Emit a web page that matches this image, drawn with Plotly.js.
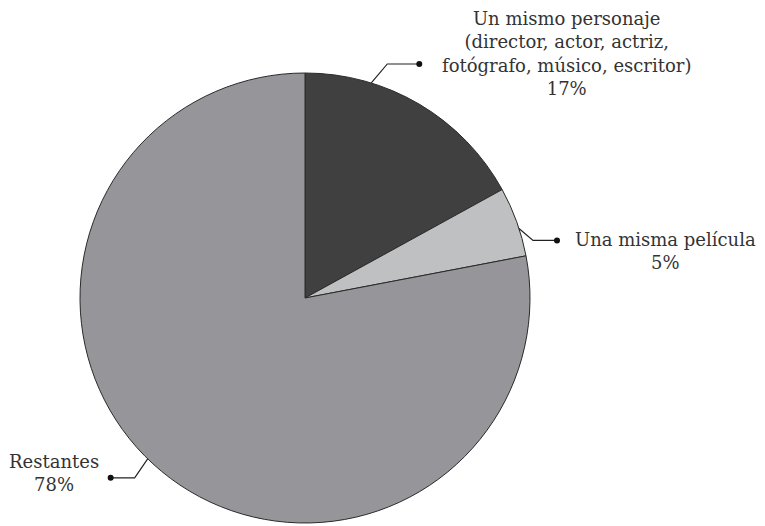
<!DOCTYPE html>
<html><head><meta charset="utf-8">
<script src="https://cdn.plot.ly/plotly-3.0.1.min.js"></script>
<style>html,body{margin:0;padding:0;background:#fff}</style>
</head><body><div id="chart" style="width:765px;height:526px"></div>
<script>
// Data
const labels = ["Un mismo personaje<br>(director, actor, actriz,<br>fotógrafo, músico, escritor)", "Una misma película", "Restantes"];
const values = [17, 5, 78];
const pctText = ["17%", "5%", "78%"];
const colors = ["#404041", "#bfc0c2", "#96969a"];

// Layout (pixels)
const W = 765, H = 526, cx = 305, cy = 298, R = 225;
const leaderFrac = [0.28, 0.6, 0.517];
const elbow = [[16, -19], [14, 12], [-13, 19]];
const run = [32, 24, -24];
const textPos = [[566, 53], [665, 251], [54, 473]];

const px = x => x / W, py = y => 1 - y / H;
const total = values.reduce((a, b) => a + b, 0);
const shapes = [], annotations = [];
let cum = 0;
values.forEach((v, i) => {
  const ang = (cum + v * leaderFrac[i]) / total * 2 * Math.PI;
  cum += v;
  const x0 = cx + R * Math.sin(ang), y0 = cy - R * Math.cos(ang);
  const x1 = x0 + elbow[i][0], y1 = y0 + elbow[i][1];
  const x2 = x1 + run[i], y2 = y1;
  shapes.push({type: "path", xref: "paper", yref: "paper",
    path: `M${px(x0)},${py(y0)} L${px(x1)},${py(y1)} L${px(x2)},${py(y2)}`,
    line: {color: "#222", width: 1.2}});
  shapes.push({type: "circle", xref: "paper", yref: "paper",
    x0: px(x2 - 3), x1: px(x2 + 3), y0: py(y2 + 3), y1: py(y2 - 3),
    fillcolor: "#111", line: {color: "#111", width: 0}});
  annotations.push({xref: "paper", yref: "paper", x: px(textPos[i][0]), y: py(textPos[i][1]),
    xanchor: "center", yanchor: "middle", align: "center", showarrow: false,
    text: labels[i] + "<br>" + pctText[i],
    font: {family: "'DejaVu Serif', serif", size: 18, color: "#333333"}});
});

const trace = {type: "pie", values: values, labels: ["a", "b", "c"], sort: false,
  direction: "clockwise", rotation: 0, textinfo: "none", hoverinfo: "none",
  marker: {colors: colors, line: {color: "#2a2a2a", width: 1}},
  domain: {x: [px(cx - R), px(cx + R)], y: [py(cy + R), py(cy - R)]}};

Plotly.newPlot("chart", [trace], {
  width: W, height: H, margin: {l: 0, r: 0, t: 0, b: 0},
  showlegend: false, paper_bgcolor: "#fff",
  shapes: shapes, annotations: annotations
}, {staticPlot: true});
</script></body></html>
